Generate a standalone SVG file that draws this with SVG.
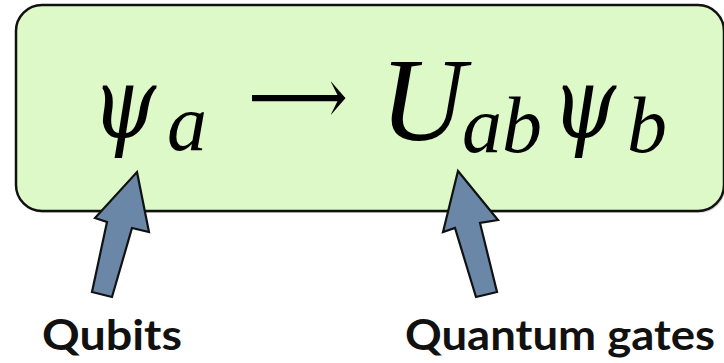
<svg xmlns="http://www.w3.org/2000/svg" width="724" height="363" viewBox="0 0 724 363">
<defs>
<style>
.m{font-family:"Liberation Serif","DejaVu Serif",serif;font-style:italic;fill:#000}
.p{font-family:"DejaVu Serif",serif;font-style:italic;fill:#000}
.lbl{font-family:Lato,"Open Sans","Liberation Sans",sans-serif;font-weight:bold;font-size:42px;fill:#111}
.arr{fill:#6a87a8;stroke:#111;stroke-width:2.2;stroke-linejoin:miter}
</style>
</defs>
<rect width="724" height="363" fill="#ffffff"/>
<g id="formula-box">
<rect x="17.5" y="7" width="708" height="206" rx="26" fill="#888" opacity="0.35"/>
<rect x="16" y="5" width="708" height="206" rx="26" fill="#ddf9c7" stroke="#111" stroke-width="2.5"/>
<text class="p" x="92" y="137" font-size="100" textLength="64" lengthAdjust="spacingAndGlyphs">ψ</text>
<text class="m" x="167" y="150" font-size="80">a</text>
<text x="248" y="124" font-family="DejaVu Serif,serif" font-size="80" textLength="100" lengthAdjust="spacingAndGlyphs">⟶</text>
<text class="m" x="380" y="140" font-size="118">U</text>
<text class="m" x="462" y="152" font-size="80">ab</text>
<text class="p" x="552" y="137" font-size="100" textLength="64" lengthAdjust="spacingAndGlyphs">ψ</text>
<text class="m" x="627" y="152" font-size="80">b</text>
</g>
<g id="connectors">
<path class="arr" d="M137,172 L149,232 L132,228 L112,297 L92,292 L107,222 L95,218 Z"/>
<path class="arr" d="M458,171 L498,220 L480,223 L497,292 L476,297 L455,228 L443,232 Z"/>
</g>
<g id="label-qubits">
<text class="lbl" x="42" y="350" textLength="140" lengthAdjust="spacingAndGlyphs">Qubits</text>
</g>
<g id="label-gates">
<text class="lbl" x="405" y="350" textLength="310" lengthAdjust="spacingAndGlyphs">Quantum gates</text>
</g>
</svg>
